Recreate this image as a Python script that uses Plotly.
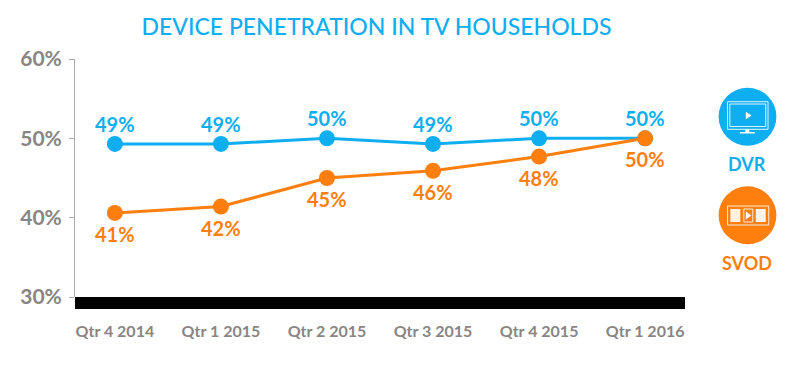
import plotly.graph_objects as go

quarters = ["Qtr 4 2014", "Qtr 1 2015", "Qtr 2 2015", "Qtr 3 2015", "Qtr 4 2015", "Qtr 1 2016"]
dvr = [49.3, 49.3, 50.0, 49.3, 50.0, 50.0]
svod = [40.6, 41.4, 45.0, 45.9, 47.7, 50.0]
dvr_labels = ["49%", "49%", "50%", "49%", "50%", "50%"]
svod_labels = ["41%", "42%", "45%", "46%", "48%", "50%"]
y_ticks = [30, 40, 50, 60]
y_tick_labels = ["30%", "40%", "50%", "60%"]

BLUE = "#0FAEF0"
ORANGE = "#FF7F0E"
GREY = "#8A8583"
FONT = "Lato"
PAGE = 8  # the page's own body margin
L, R, T, B = 73, 685, 59, 297


def px(x):
    return (x - L) / (R - L)


def py(y):
    return (B - y) / (B - T)


def path(points):
    return "M" + " L".join(f"{px(x):.4f},{py(y):.4f}" for x, y in points) + " Z"


def rect(x0, y0, x1, y1, **kw):
    return dict(type="rect", xref="paper", yref="paper", x0=px(x0), x1=px(x1), y0=py(y0), y1=py(y1), layer="above", **kw)


def circle(cx, cy, r, color):
    return dict(type="circle", xref="paper", yref="paper", x0=px(cx - r), x1=px(cx + r), y0=py(cy - r), y1=py(cy + r),
                fillcolor=color, line=dict(width=0), layer="above")


def tri(points):
    return dict(type="path", xref="paper", yref="paper", path=path(points), fillcolor="white", line=dict(width=0), layer="above")


W = dict(color="rgba(255,255,255,0.85)", width=1)
shapes = [
    dict(type="rect", xref="x domain", yref="y domain", x0=0, x1=1, y0=0, y1=-12 / (B - T), fillcolor="black", line=dict(width=0), layer="above"),
    circle(747.7, 116.7, 29, BLUE),
    rect(727.7, 101.7, 768.3, 129.3, line=W),
    rect(730, 104, 766, 126.5, line=W),
    tri([(746, 111.7), (751.7, 115.5), (746, 119.3)]),
    rect(745.5, 129.3, 749.5, 132, fillcolor="white", line=dict(width=0)),
    rect(740, 132, 755, 133.5, fillcolor="white", line=dict(width=0)),
    circle(747.7, 215.3, 29, ORANGE),
    rect(727.7, 206, 769, 225, line=W),
    rect(730.5, 209, 740.5, 222, fillcolor="rgba(255,255,255,0.9)", line=dict(width=0)),
    rect(744, 209, 753, 222, line=W),
    rect(756, 209, 766, 222, fillcolor="rgba(255,255,255,0.9)", line=dict(width=0)),
    tri([(746, 211.5), (751.5, 215.5), (746, 219.5)]),
]

fig = go.Figure()
fig.add_trace(go.Scatter(x=quarters, y=dvr, mode="lines+markers",
                         line=dict(color=BLUE, width=3), marker=dict(color=BLUE, size=16), cliponaxis=False))
fig.add_trace(go.Scatter(x=quarters, y=svod, mode="lines+markers",
                         line=dict(color=ORANGE, width=3), marker=dict(color=ORANGE, size=16), cliponaxis=False))

annotations = [
    dict(text="DVR", xref="paper", yref="paper", x=px(747.7), y=py(164), showarrow=False, xanchor="center", yanchor="middle",
         font=dict(family=FONT, size=18, color=BLUE, weight=700)),
    dict(text="SVOD", xref="paper", yref="paper", x=px(747.7), y=py(262.7), showarrow=False, xanchor="center", yanchor="middle",
         font=dict(family=FONT, size=18, color=ORANGE, weight=700)),
]
for q, v, t in zip(quarters, dvr, dvr_labels):
    annotations.append(dict(x=q, y=v, text=t, showarrow=False, yshift=20, xanchor="center", yanchor="middle",
                            font=dict(family=FONT, size=20, color=BLUE, weight=700)))
for q, v, t in zip(quarters, svod, svod_labels):
    annotations.append(dict(x=q, y=v, text=t, showarrow=False, yshift=-21, xanchor="center", yanchor="middle",
                            font=dict(family=FONT, size=20, color=ORANGE, weight=700)))

fig.update_layout(
    width=800 - PAGE, height=375 - PAGE, autosize=False, showlegend=False,
    paper_bgcolor="white", plot_bgcolor="white",
    margin=dict(l=L - PAGE, r=800 - R, t=T - PAGE, b=375 - B),
    title=dict(text="DEVICE PENETRATION IN TV HOUSEHOLDS", x=(376.5 - PAGE) / (800 - PAGE), xanchor="center",
               y=1 - (27 - PAGE) / (375 - PAGE), yanchor="middle",
               font=dict(family=FONT, size=23, color=BLUE, weight=500)),
    shapes=shapes, annotations=annotations,
)
fig.update_xaxes(type="category", range=[-0.376, 5.376], categoryorder="array", categoryarray=quarters,
                 showgrid=False, showline=False, ticks="", zeroline=False, ticklabelstandoff=23,
                 tickfont=dict(family=FONT, size=16, color=GREY, weight=700))
fig.update_yaxes(range=[30, 60], tickvals=y_ticks, ticktext=y_tick_labels, showgrid=False, zeroline=False,
                 showline=True, linecolor="#AAAAAA", linewidth=1, ticks="outside", ticklen=5, tickcolor="#AAAAAA",
                 ticklabelstandoff=3, tickfont=dict(family=FONT, size=21, color=GREY, weight=700))
fig.write_html("out.html")
